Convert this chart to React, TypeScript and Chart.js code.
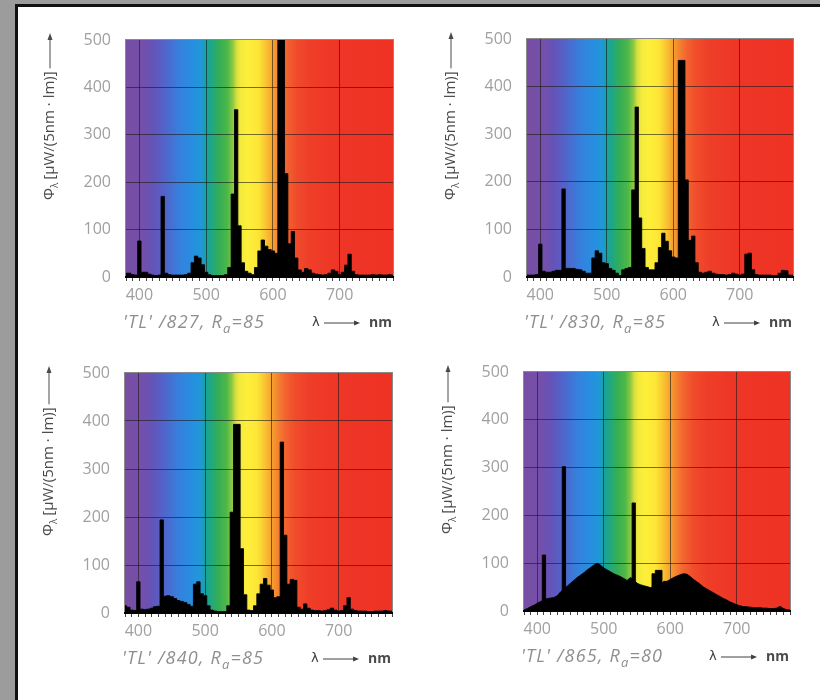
import React, { useEffect, useRef } from "react";
import { Chart, registerables } from "chart.js";

Chart.register(...registerables);

// ---------- data ----------
const WAVELENGTHS = [
  380, 385, 390, 395, 400, 405, 410, 415, 420, 425,
  430, 435, 440, 445, 450, 455, 460, 465, 470, 475,
  480, 485, 490, 495, 500, 505, 510, 515, 520, 525,
  530, 535, 540, 545, 550, 555, 560, 565, 570, 575,
  580, 585, 590, 595, 600, 605, 610, 615, 620, 625,
  630, 635, 640, 645, 650, 655, 660, 665, 670, 675,
  680, 685, 690, 695, 700, 705, 710, 715, 720, 725,
  730, 735, 740, 745, 750, 755, 760, 765, 770, 775,
  780,
];

const TL827 = [
  8, 8, 5, 4, 76, 10, 10, 6, 4, 3,
  4, 170, 8, 5, 4, 4, 4, 4, 5, 8,
  30, 44, 40, 26, 10, 5, 3, 3, 3, 3,
  5, 20, 175, 353, 108, 30, 12, 8, 5, 20,
  55, 78, 65, 58, 55, 50, 540, 540, 218, 70,
  96, 40, 15, 10, 18, 15, 8, 6, 5, 4,
  5, 8, 15, 12, 5, 10, 25, 48, 12, 5,
  4, 4, 4, 4, 5, 4, 5, 4, 4, 5,
  4,
];

const TL830 = [
  4, 4, 4, 5, 69, 12, 10, 10, 12, 14,
  14, 185, 18, 18, 18, 16, 15, 12, 8, 8,
  40, 55, 50, 30, 28, 18, 14, 8, 3, 15,
  18, 20, 183, 357, 124, 60, 20, 15, 15, 30,
  62, 92, 75, 55, 42, 40, 455, 455, 204, 77,
  86, 30, 10, 8, 10, 12, 8, 6, 5, 5,
  4, 5, 8, 6, 4, 6, 48, 50, 15, 5,
  4, 4, 4, 4, 3, 3, 8, 14, 13, 4,
  4,
];

const TL840 = [
  15, 12, 6, 5, 65, 8, 7, 8, 10, 13,
  14, 194, 35, 36, 34, 30, 26, 24, 22, 18,
  14, 60, 65, 40, 36, 15, 6, 4, 3, 3,
  3, 15, 210, 393, 393, 134, 38, 6, 5, 15,
  40, 60, 72, 58, 48, 32, 34, 356, 162, 60,
  70, 68, 12, 8, 19, 10, 6, 5, 5, 4,
  5, 7, 10, 6, 4, 5, 15, 32, 8, 5,
  4, 4, 4, 3, 3, 4, 4, 4, 5, 4,
  4,
];

// 'TL' /865: smooth continuum plus separate line emissions
const TL865_CONTINUUM = [
  2, 5, 9, 12, 16, 20, 23, 26, 27, 28,
  32, 40, 46, 52, 58, 64, 70, 75, 80, 86,
  91, 96, 100, 96, 90, 86, 82, 78, 75, 72,
  68, 64, 70, 66, 58, 55, 53, 51, 49, 50,
  50, 55, 62, 62, 66, 70, 73, 76, 78, 77,
  72, 66, 61, 56, 50, 46, 42, 38, 34, 30,
  26, 23, 19, 16, 13, 11, 9, 9, 8, 7,
  7, 7, 6, 6, 5, 5, 6, 10, 5, 3,
  2,
];

const TL865_LINES = [
  0, 0, 0, 0, 0, 0, 117, 0, 0, 0,
  0, 0, 302, 0, 0, 0, 0, 0, 0, 0,
  0, 0, 0, 0, 0, 0, 0, 0, 0, 0,
  0, 0, 0, 226, 0, 0, 0, 0, 0, 78,
  85, 85, 0, 0, 0, 0, 0, 0, 0, 0,
  0, 0, 0, 0, 0, 0, 0, 0, 0, 0,
  0, 0, 0, 0, 0, 0, 0, 0, 0, 0,
  0, 0, 0, 0, 0, 0, 0, 0, 0, 0,
  0,
];

const LAMP_TYPES = ["/827", "/830", "/840", "/865"];
const RA_VALUES = [85, 85, 85, 80];
const X_MIN = 380;
const X_MAX = 780;
const Y_MAX = 500;

const PANEL_SERIES = [[TL827], [TL830], [TL840], [TL865_CONTINUUM, TL865_LINES]];
const PANEL_STEPPED = [["middle"], ["middle"], ["middle"], [false, "middle"]];

// ---------- styles ----------
const SPECTRUM_STOPS_NM = [380, 405, 420, 440, 460, 480, 493, 500, 508, 520, 532, 540, 546, 552, 562, 578, 590, 600, 610, 620, 635, 655, 700, 780];
const SPECTRUM_STOP_COLORS = [
  "#774ea3", "#7450aa", "#6553b8", "#4f66cc", "#3680dc", "#278ee0", "#2098d8",
  "#17a2a0", "#1ea783", "#36ae55", "#4db848", "#8cc843", "#d8e03e", "#f4ea3c",
  "#fdef3a", "#fde636", "#f9c232", "#f6a02e", "#f47f30", "#f2642f", "#f04c2c",
  "#ee3e28", "#ee3526", "#ee3325",
];

const PLOT_RECTS = [
  { left: 126, top: 40, right: 393, bottom: 277 },
  { left: 527, top: 39, right: 793, bottom: 277 },
  { left: 125, top: 373, right: 392, bottom: 613 },
  { left: 524, top: 372, right: 790, bottom: 611 },
];

const PAD_LEFT = 90;
const PAD_TOP = 14;
const PAD_RIGHT = 12;
const PAD_BOTTOM = 60;

const GRID_COLOR = "rgba(25,25,25,0.6)";
const TICK_FONT = '"Open Sans", "DejaVu Sans", sans-serif';

function drawArrow(ctx: CanvasRenderingContext2D, x0: number, x1: number, y: number, color: string) {
  ctx.save();
  ctx.strokeStyle = color;
  ctx.fillStyle = color;
  ctx.lineWidth = 1;
  ctx.beginPath();
  ctx.moveTo(x0, y);
  ctx.lineTo(x1 - 5, y);
  ctx.stroke();
  ctx.beginPath();
  ctx.moveTo(x1, y);
  ctx.lineTo(x1 - 6, y - 2.5);
  ctx.lineTo(x1 - 6, y + 2.5);
  ctx.closePath();
  ctx.fill();
  ctx.restore();
}

const decorPlugin = {
  id: "decor",
  beforeDraw(chart: any) {
    const { ctx, chartArea: a, scales } = chart;
    const xs = scales.x;
    const x0 = xs.getPixelForValue(X_MIN);
    const x1 = xs.getPixelForValue(X_MAX);
    const g = ctx.createLinearGradient(x0, 0, x1, 0);
    SPECTRUM_STOPS_NM.forEach((nm, i) => {
      g.addColorStop((nm - X_MIN) / (X_MAX - X_MIN), SPECTRUM_STOP_COLORS[i]);
    });
    ctx.save();
    ctx.fillStyle = g;
    ctx.fillRect(a.left, a.top, a.right - a.left, a.bottom - a.top);
    ctx.strokeStyle = "#8a8a8a";
    ctx.lineWidth = 1;
    ctx.strokeRect(a.left - 0.5, a.top - 0.5, a.right - a.left + 1, a.bottom - a.top + 1);
    ctx.restore();
  },
  afterDraw(chart: any, _args: any, opts: any) {
    const { ctx, chartArea: a } = chart;
    // ---- y axis title (rotated) ----
    ctx.save();
    const startY = a.bottom - 77;
    ctx.translate(a.left - 76, startY);
    ctx.rotate(-Math.PI / 2);
    ctx.fillStyle = "#4a4a4a";
    ctx.textBaseline = "middle";
    ctx.textAlign = "left";
    let cx = 0;
    ctx.font = '15px "Open Sans", sans-serif';
    ctx.fillText("Φ", cx, 0);
    cx += ctx.measureText("Φ").width;
    ctx.font = '10px "Open Sans", sans-serif';
    ctx.fillText("λ", cx, 5);
    cx += ctx.measureText("λ").width + 3;
    ctx.font = '15px "Open Sans", sans-serif';
    const unit = "[μW/(5nm · lm)]";
    ctx.fillText(unit, cx, 0);
    cx += ctx.measureText(unit).width + 3;
    const end = startY - (a.top - 7);
    ctx.strokeStyle = "#4a4a4a";
    ctx.lineWidth = 1;
    ctx.beginPath();
    ctx.moveTo(cx, 0);
    ctx.lineTo(end - 4, 0);
    ctx.stroke();
    ctx.beginPath();
    ctx.moveTo(end, 0);
    ctx.lineTo(end - 7, -2.5);
    ctx.lineTo(end - 7, 2.5);
    ctx.closePath();
    ctx.fill();
    ctx.restore();

    // ---- caption ----
    ctx.save();
    const cy = a.bottom + 46;
    let x = a.left - 3;
    ctx.textBaseline = "middle";
    ctx.textAlign = "left";
    ctx.fillStyle = "#8e8e8e";
    (ctx as any).letterSpacing = "1.2px";
    ctx.font = 'italic 18px "Open Sans", sans-serif';
    const first = `'TL' ${opts.type}, R`;
    ctx.fillText(first, x, cy);
    x += ctx.measureText(first).width;
    ctx.font = 'italic 13px "Open Sans", sans-serif';
    ctx.fillText("a", x, cy + 6);
    x += ctx.measureText("a").width;
    ctx.font = 'italic 18px "Open Sans", sans-serif';
    ctx.fillText(`=${opts.ra}`, x, cy);
    (ctx as any).letterSpacing = "0px";

    // λ → nm
    const lx = a.right - 81;
    ctx.fillStyle = "#404040";
    ctx.font = '13px "DejaVu Sans", sans-serif';
    ctx.fillText("λ", lx, cy);
    ctx.font = 'bold 14px "Open Sans", sans-serif';
    ctx.fillStyle = "#4a4a4a";
    ctx.textAlign = "right";
    ctx.fillText("nm", a.right - 1, cy);
    const nmW = ctx.measureText("nm").width;
    drawArrow(ctx, lx + 12, a.right - nmW - 10, cy, "#404040");
    ctx.restore();
  },
};

function Panel({ index }: { index: number }) {
  const ref = useRef<HTMLCanvasElement | null>(null);
  const r = PLOT_RECTS[index];
  const width = PAD_LEFT + (r.right - r.left) + PAD_RIGHT;
  const height = PAD_TOP + (r.bottom - r.top) + PAD_BOTTOM;

  useEffect(() => {
    if (!ref.current) return;
    const seriesList = PANEL_SERIES[index];
    const steppedList = PANEL_STEPPED[index];
    const chart = new Chart(ref.current, {
      type: "line",
      data: {
        datasets: seriesList.map((values, k) => ({
          data: WAVELENGTHS.map((w, i) => ({ x: w, y: values[i] })),
          stepped: steppedList[k] as any,
          fill: "origin",
          backgroundColor: "#000000",
          borderColor: "#000000",
          borderWidth: 0.9,
          pointRadius: 0,
          tension: 0,
        })),
      },
      options: {
        responsive: false,
        animation: false,
        devicePixelRatio: 1,
        layout: { padding: { left: 0, top: PAD_TOP, right: PAD_RIGHT, bottom: 0 } },
        plugins: {
          legend: { display: false },
          tooltip: { enabled: false },
          decor: { type: LAMP_TYPES[index], ra: RA_VALUES[index] },
        } as any,
        scales: {
          x: {
            type: "linear",
            min: X_MIN,
            max: X_MAX,
            afterFit: (s: any) => {
              s.height = PAD_BOTTOM;
              s.paddingLeft = 0;
              s.paddingRight = 0;
            },
            ticks: {
              stepSize: 10,
              maxTicksLimit: 100,
              autoSkip: false,
              maxRotation: 0,
              padding: 5,
              color: "#a0a0a0",
              font: { family: TICK_FONT, size: 16 },
              callback: (v: any) => (Number(v) % 100 === 0 ? String(v) : ""),
            },
            grid: {
              color: (c: any) =>
                c.tick && c.tick.value % 100 === 0 && c.tick.value > X_MIN && c.tick.value < X_MAX
                  ? GRID_COLOR
                  : "rgba(0,0,0,0)",
              tickColor: "#444444",
              tickLength: 4,
              drawTicks: true,
            },
            border: { display: true, color: "#000000", width: 2 },
          },
          y: {
            min: 0,
            max: Y_MAX,
            afterFit: (s: any) => {
              s.width = PAD_LEFT;
              s.paddingTop = 0;
              s.paddingBottom = 0;
            },
            ticks: {
              stepSize: 100,
              padding: 15,
              color: "#a0a0a0",
              font: { family: TICK_FONT, size: 16 },
            },
            grid: {
              color: (c: any) =>
                c.tick && c.tick.value > 0 && c.tick.value < Y_MAX ? GRID_COLOR : "rgba(0,0,0,0)",
              drawTicks: false,
            },
            border: { display: false },
          },
        },
      },
      plugins: [decorPlugin as any],
    });
    return () => chart.destroy();
  }, [index]);

  return (
    <div
      style={{
        position: "absolute",
        left: r.left - PAD_LEFT,
        top: r.top - PAD_TOP,
        width,
        height,
      }}
    >
      <canvas ref={ref} width={width} height={height} style={{ width, height, display: "block" }} />
    </div>
  );
}

export default function App() {
  return (
    <div
      style={{
        position: "fixed",
        left: 0,
        top: 0,
        width: 820,
        height: 700,
        background: "#9c9c9c",
        overflow: "hidden",
      }}
    >
      <div style={{ position: "absolute", left: 15, top: 4, right: 0, bottom: 0, background: "#111111" }} />
      <div style={{ position: "absolute", left: 18, top: 7, right: 0, bottom: 0, background: "#ffffff" }} />
      {[0, 1, 2, 3].map((i) => (
        <Panel key={i} index={i} />
      ))}
    </div>
  );
}
